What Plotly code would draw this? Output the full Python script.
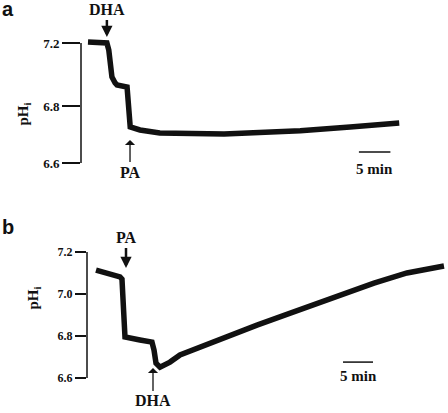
import plotly.graph_objects as go

W, H = 448, 413

# ---- Panel a data (time in min, pHi) ----
a_time = [0, 3.0, 3.3, 3.8, 4.3, 4.6, 6.2, 6.35, 6.5, 6.7, 8.25, 11.4, 21.6, 27.3, 33.7, 41.6, 49.4]
a_ph = [7.205, 7.2, 7.165, 7.03, 7.0, 6.99, 6.98, 6.915, 6.78, 6.78, 6.765, 6.75, 6.745, 6.751, 6.761, 6.78, 6.80]
a_ticks = [7.2, 6.885, 6.6]
a_ticktext = ["7.2", "6.8", "6.6"]

# ---- Panel b data ----
b_time = [0, 2.33, 4.0, 4.33, 4.58, 4.83, 7.33, 9.33, 9.67, 10.0, 10.67, 12.33, 14.0, 21.33, 26.83, 32.5, 39.67, 46.33, 51.83, 58.0]
b_ph = [7.114, 7.095, 7.081, 7.071, 6.926, 6.795, 6.781, 6.771, 6.733, 6.671, 6.652, 6.676, 6.71, 6.795, 6.852, 6.910, 6.986, 7.052, 7.10, 7.133]
b_ticks = [7.2, 7.0, 6.8, 6.6]
b_ticktext = ["7.2", "7.0", "6.8", "6.6"]

serif = "Liberation Serif"
ink = "#111111"

fig = go.Figure()
fig.add_trace(go.Scatter(x=a_time, y=a_ph, mode="lines", line=dict(color=ink, width=5.5),
                         xaxis="x", yaxis="y", showlegend=False, hoverinfo="skip"))
fig.add_trace(go.Scatter(x=b_time, y=b_ph, mode="lines", line=dict(color=ink, width=5.5),
                         xaxis="x2", yaxis="y2", showlegend=False, hoverinfo="skip"))

def py(p):
    return 1 - p / H

fig.update_layout(
    width=W, height=H, margin=dict(l=0, r=0, t=0, b=0),
    paper_bgcolor="white", plot_bgcolor="white",
    xaxis=dict(domain=[81 / W, 1], range=[-1.11, 57.14], visible=False),
    yaxis=dict(domain=[py(170), py(30)], range=[6.565, 7.265], showgrid=False, zeroline=False,
               showline=False, ticks="outside", ticklen=18, tickwidth=1.5, tickcolor=ink,
               tickvals=a_ticks, ticktext=a_ticktext,
               tickfont=dict(family=serif, size=13, color=ink, weight="bold")),
    xaxis2=dict(domain=[87 / W, 1], range=[-1.5, 58.67], visible=False, anchor="y2"),
    yaxis2=dict(domain=[py(385), py(245)], range=[6.567, 7.233], showgrid=False, zeroline=False,
                showline=False, ticks="outside", ticklen=11, tickwidth=1.5, tickcolor=ink,
                tickvals=b_ticks, ticktext=b_ticktext, anchor="x2",
                tickfont=dict(family=serif, size=12, color=ink, weight="bold")),
)

# vertical axis bars
fig.add_shape(type="line", xref="x domain", yref="y", x0=0, x1=0, y0=6.6, y1=7.2,
              line=dict(color=ink, width=1.5))
fig.add_shape(type="line", xref="x2 domain", yref="y2", x0=0, x1=0, y0=6.6, y1=7.2,
              line=dict(color=ink, width=1.5))

# 5 min scale bars
fig.add_shape(type="line", xref="x", yref="y", x0=43.0, x1=48.0, y0=6.655, y1=6.655,
              line=dict(color=ink, width=1.5))
fig.add_shape(type="line", xref="x2", yref="y2", x0=41.17, x1=46.17, y0=6.676, y1=6.676,
              line=dict(color=ink, width=1.5))

bold_font = dict(family=serif, size=15, color=ink, weight="bold")
arrow_font = dict(family=serif, size=16, color=ink, weight="bold")
ann = []
ann.append(dict(xref="x", yref="y", x=45.5, y=6.57, text="5 min", showarrow=False, font=bold_font))
ann.append(dict(xref="x2", yref="y2", x=43.67, y=6.61, text="5 min", showarrow=False, font=bold_font))

# arrows
ann.append(dict(xref="x", yref="y", x=3.0, y=7.23, text="DHA", showarrow=True, ax=0, ay=-27,
                arrowhead=2, arrowsize=0.9, arrowwidth=2.5, arrowcolor=ink, font=arrow_font))
ann.append(dict(xref="x", yref="y", x=6.67, y=6.715, text="PA", showarrow=True, ax=0, ay=32,
                arrowhead=1, arrowsize=1.3, arrowwidth=1.3, arrowcolor=ink, font=arrow_font))
ann.append(dict(xref="x2", yref="y2", x=5.0, y=7.124, text="PA", showarrow=True, ax=0, ay=-30,
                arrowhead=2, arrowsize=0.9, arrowwidth=2.5, arrowcolor=ink, font=arrow_font))
ann.append(dict(xref="x2", yref="y2", x=9.5, y=6.648, text="DHA", showarrow=True, ax=0, ay=33,
                arrowhead=1, arrowsize=1.3, arrowwidth=1.3, arrowcolor=ink, font=arrow_font))

# y labels
ann.append(dict(xref="paper", yref="paper", x=12 / W, y=py(101), text="pH<sub>i</sub>", showarrow=False,
                textangle=-90, font=bold_font))
ann.append(dict(xref="paper", yref="paper", x=22 / W, y=py(312), text="pH<sub>i</sub>", showarrow=False,
                textangle=-90, font=bold_font))

# panel letters
letter_font = dict(family="Liberation Sans", size=20, color=ink, weight="bold")
ann.append(dict(xref="paper", yref="paper", x=1 / W, y=py(-3), text="a", showarrow=False,
                xanchor="left", yanchor="top", borderpad=0, font=letter_font))
ann.append(dict(xref="paper", yref="paper", x=1 / W, y=py(214.5), text="b", showarrow=False,
                xanchor="left", yanchor="top", borderpad=0, font=letter_font))

fig.update_layout(annotations=ann)
fig.write_html("out.html", config={"displayModeBar": False},
               post_script="document.body.style.margin='0';document.body.style.overflow='hidden';")
